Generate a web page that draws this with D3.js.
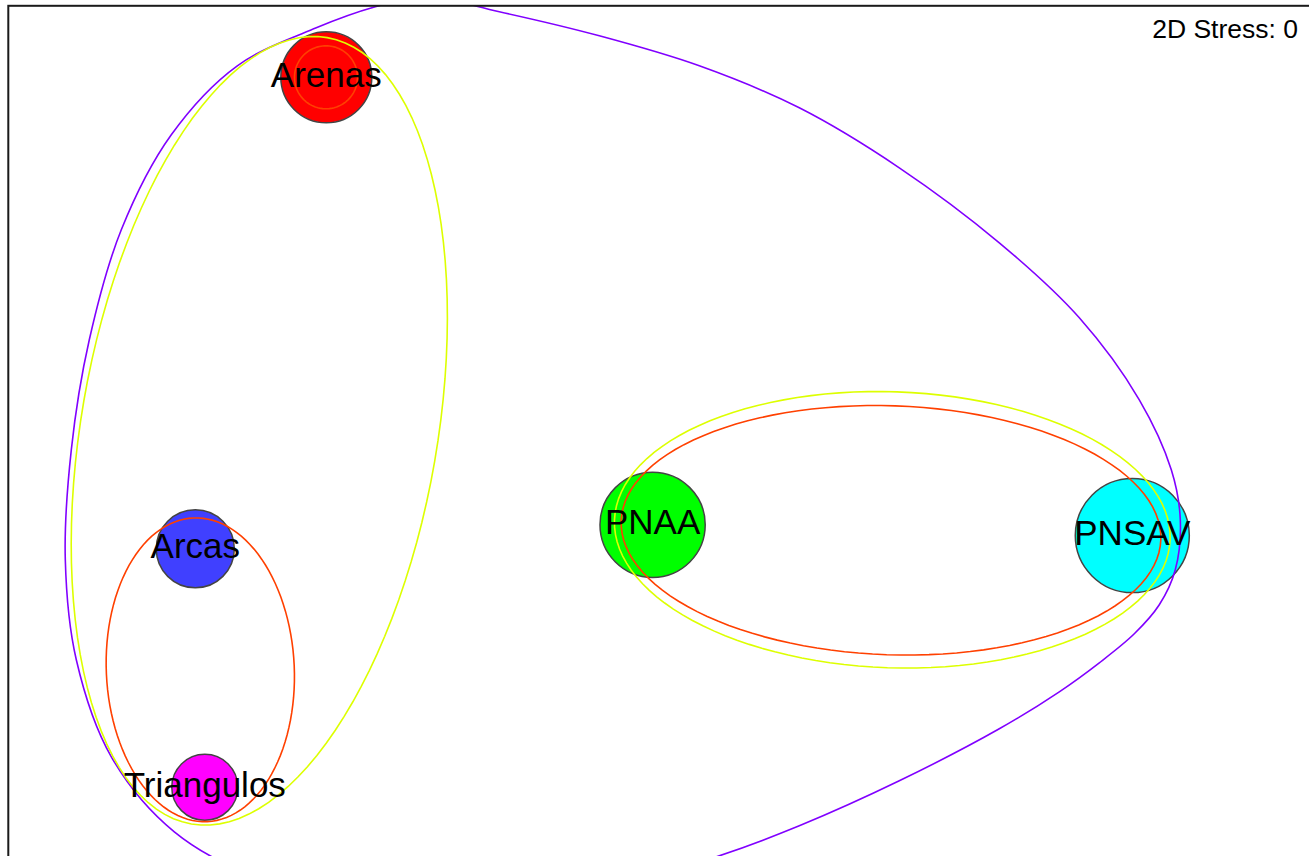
<!DOCTYPE html>
<html>
<head>
<meta charset="utf-8">
<script src="https://cdn.jsdelivr.net/npm/d3@7"></script>
<style>
  html, body { margin: 0; padding: 0; background: #fff; overflow: hidden; }
  text { font-family: "Liberation Sans", Arial, sans-serif; }
</style>
</head>
<body>
<svg id="chart" width="1309" height="856"></svg>
<script>
// ---- nMDS ordination: sample coordinates and bubble values ----
const samples    = ["Arenas", "Arcas", "Triangulos", "PNAA", "PNSAV"];
const mdsX       = [-3.42, -4.73, -4.635, -0.157, 4.64];
const mdsY       = [3.605, -1.11, -3.495, -0.87, -0.978];
const abundance  = [57.5, 42.3, 30.3, 76.9, 90.3];
const fillColors = ["#ff0000", "#4040ff", "#ff00ff", "#00ff00", "#00ffff"];
const stressText = "2D Stress: 0";

// ---- cluster overlays at three similarity levels ----
const levelColor = { low: "#8000ff", mid: "#ddff00", high: "#ff4000" };

// elliptical groups (centre, semi-axes, orientation in degrees)
const groupMembers = ["Arenas Arcas Triangulos", "Arcas Triangulos", "Arenas", "PNAA PNSAV", "PNAA PNSAV"];
const groupLevel   = ["mid", "high", "high", "mid", "high"];
const groupCX      = [-4.09, -4.68, -3.423, 2.24, 2.227];
const groupCY      = [0.07, -2.32, 3.605, -0.92, -0.925];
const groupRA      = [3.99, 1.52, 0.315, 2.78, 2.70];
const groupRB      = [1.78, 0.94, 0.315, 1.38, 1.245];
const groupAngle   = [80.2, 92.6, 0, -2, -2];

// outline of the all-sample group (low level)
const outerX = [-2.44, -1.69, -0.69, 0.31, 1.31, 2.31, 3.31, 4.11, 4.71, 5.03, 5.12, 5.07, 4.91, 4.66,
                4.31, 3.91, 3.31, 2.31, 1.31, 0.51, -0.49, -1.89, -3.09, -4.09, -4.94, -5.57, -5.92,
                -6.03, -5.97, -5.79, -5.47, -4.97, -4.31, -3.52, -2.93];
const outerY = [4.41, 4.26, 4.02, 3.72, 3.30, 2.70, 1.95, 1.20, 0.38, -0.32, -0.82, -1.32, -1.67, -1.96,
                -2.25, -2.54, -2.91, -3.43, -3.88, -4.18, -4.48, -4.64, -4.60, -4.40, -3.94, -3.19, -2.22,
                -1.22, -0.12, 0.98, 2.08, 3.03, 3.72, 4.10, 4.31];

// ---- layout ----
const svg = d3.select("#chart");
const frame = { left: 8.3, top: 5.8, width: 1320, height: 864 };

const x = d3.scaleLinear().domain([-6.6, 6.6]).range([frame.left, frame.left + frame.width]);
const y = d3.scaleLinear().domain([-4.32, 4.32]).range([frame.top + frame.height, frame.top]);
const r = d3.scaleSqrt().domain([0, 100]).range([0, 60]);

svg.append("defs").append("clipPath").attr("id", "plot-clip")
  .append("rect")
  .attr("x", frame.left).attr("y", frame.top)
  .attr("width", frame.width).attr("height", frame.height);

const plot = svg.append("g").attr("clip-path", "url(#plot-clip)");

const nodes = samples.map((name, i) => ({
  name, x: mdsX[i], y: mdsY[i], v: abundance[i], fill: fillColors[i]
}));

// bubbles
plot.append("g").selectAll("circle")
  .data(nodes)
  .join("circle")
  .attr("cx", d => x(d.x))
  .attr("cy", d => y(d.y))
  .attr("r", d => r(d.v))
  .attr("fill", d => d.fill)
  .attr("stroke", "#444")
  .attr("stroke-width", 1.5);

// cluster overlays
const groups = groupMembers.map((m, i) => {
  const phi = groupAngle[i] * Math.PI / 180;
  const pts = d3.range(0, 360, 3).map(deg => {
    const t = deg * Math.PI / 180;
    const lx = groupRA[i] * Math.cos(t), ly = groupRB[i] * Math.sin(t);
    return [groupCX[i] + lx * Math.cos(phi) - ly * Math.sin(phi),
            groupCY[i] + lx * Math.sin(phi) + ly * Math.cos(phi)];
  });
  return { members: m, level: groupLevel[i], pts };
});

const overlay = plot.append("g").attr("fill", "none").attr("stroke-width", 1.6);

overlay.append("path")
  .datum(outerX.map((v, i) => [v, outerY[i]]))
  .attr("stroke", levelColor.low)
  .attr("d", d3.line().x(p => x(p[0])).y(p => y(p[1])).curve(d3.curveCatmullRomClosed.alpha(0.5)));

overlay.selectAll("path.group")
  .data(groups)
  .join("path")
  .attr("class", "group")
  .attr("stroke", d => levelColor[d.level])
  .attr("d", d => d3.line().x(p => x(p[0])).y(p => y(p[1])).curve(d3.curveLinearClosed)(d.pts));

// sample labels
plot.append("g").selectAll("text")
  .data(nodes)
  .join("text")
  .attr("x", d => x(d.x))
  .attr("y", d => y(d.y))
  .attr("dy", "0.27em")
  .attr("text-anchor", "middle")
  .attr("font-size", 35)
  .attr("fill", "#000")
  .text(d => d.name);

// stress value
svg.append("text")
  .attr("x", 1298)
  .attr("y", 38)
  .attr("text-anchor", "end")
  .attr("font-size", 26.5)
  .attr("fill", "#000")
  .text(stressText);

// frame
svg.append("rect")
  .attr("x", frame.left).attr("y", frame.top)
  .attr("width", frame.width).attr("height", frame.height)
  .attr("fill", "none")
  .attr("stroke", "#1a1a1a")
  .attr("stroke-width", 2);
</script>
</body>
</html>
